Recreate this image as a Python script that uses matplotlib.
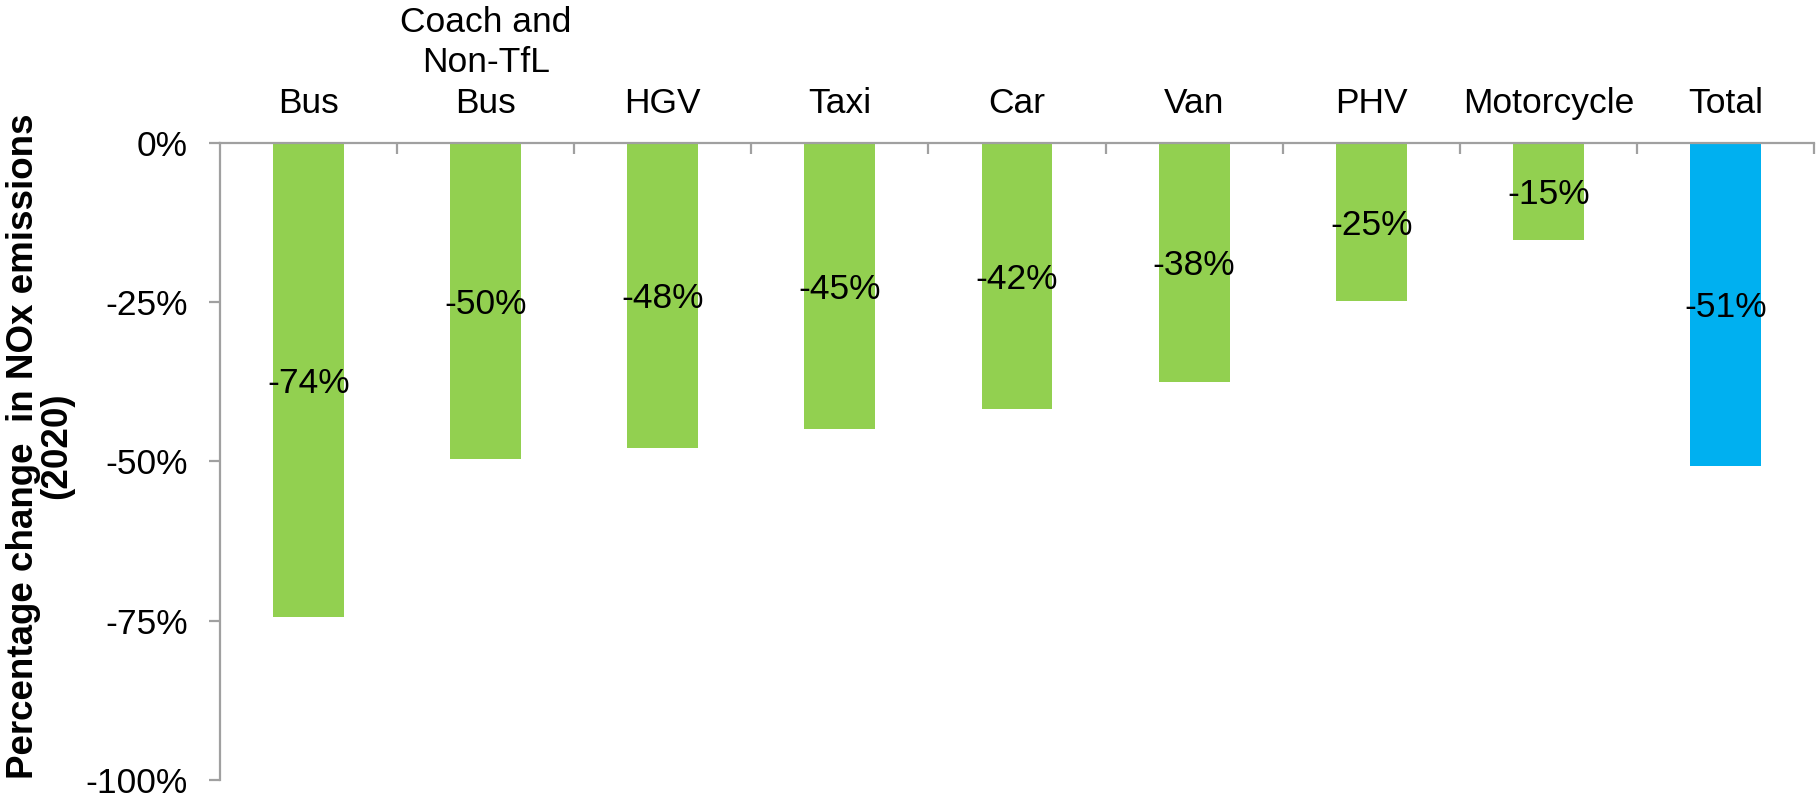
import matplotlib
matplotlib.use("Agg")
import matplotlib.pyplot as plt
import matplotlib.transforms as mtransforms
import numpy as np

categories = ["Bus", "Coach and\nNon-TfL\nBus", "HGV", "Taxi", "Car", "Van", "PHV", "Motorcycle", "Total"]
values = [-74.5, -49.7, -47.9, -44.9, -41.8, -37.6, -24.9, -15.3, -50.7]
value_labels = ["-74%", "-50%", "-48%", "-45%", "-42%", "-38%", "-25%", "-15%", "-51%"]
bar_colors = ["#92D050"] * 8 + ["#00B0F0"]
y_ticks = [0, -25, -50, -75, -100]
y_ticklabels = ["0%", "-25%", "-50%", "-75%", "-100%"]

plt.rcParams['font.family'] = ['Liberation Sans', 'DejaVu Sans']

FS = 25.5

fig = plt.figure(figsize=(18.16, 7.95), dpi=100)
ax = fig.add_axes([220/1816, 1-780/795, 1594/1816, (780-142.5)/795])

x = np.arange(len(categories))
ax.bar(x, values, width=0.4, color=bar_colors, zorder=2)
for xi, v, lab in zip(x, values, value_labels):
    ax.text(xi, v/2, lab, ha='center', va='center_baseline', fontsize=FS, color='black', zorder=3)

ax.set_xlim(-0.5, len(categories) - 0.5)
ax.set_ylim(-100, 0)

axis_color = '#A0A0A0'
for s in ['right', 'bottom']:
    ax.spines[s].set_visible(False)
for s in ['left', 'top']:
    ax.spines[s].set_color(axis_color)
    ax.spines[s].set_linewidth(1.6)

ax.set_yticks(y_ticks)
ax.set_yticklabels(y_ticklabels, fontsize=FS)
ax.tick_params(axis='y', direction='out', length=8, width=1.6, color=axis_color, pad=15)
for lbl in ax.get_yticklabels():
    lbl.set_verticalalignment('center_baseline')

ax.xaxis.tick_top()
ax.set_xticks(x)
ax.set_xticklabels(categories, fontsize=FS, linespacing=1.3)
ax.set_xticks(np.arange(len(categories)) + 0.5, minor=True)
ax.tick_params(axis='x', which='major', length=0, pad=16, top=True, bottom=False)
ax.tick_params(axis='x', which='minor', direction='in', length=8, width=1.6, color=axis_color, top=True, bottom=False)

fig.text(40/1816, 1-446/795, "Percentage change  in NOx emissions\n(2020)", rotation=90,
         ha='center', va='center', multialignment='center', fontsize=26.5, fontweight='bold',
         linespacing=0.95)

fig.savefig("out.png", dpi=100)
